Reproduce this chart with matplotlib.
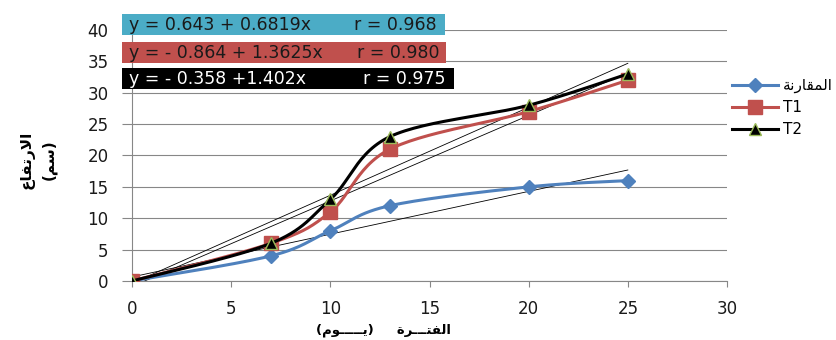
import matplotlib.pyplot as plt
import numpy as np
from matplotlib.patches import Rectangle
from matplotlib.lines import Line2D

# days
days = [0, 7, 10, 13, 20, 25]
control = [0, 4, 8, 12, 15, 16]
t1 = [0, 6, 11, 21, 27, 32]
t2 = [0, 6, 13, 23, 28, 33]

# trend line coefficients (intercept, slope) as printed on the chart
trend_a = [0.643, -0.864, -0.358]
trend_b = [0.6819, 1.3625, 1.402]
eq_texts = ["y = 0.643 + 0.6819x", "y = - 0.864 + 1.3625x", "y = - 0.358 +1.402x"]
r_texts = ["r = 0.968", "r = 0.980", "r = 0.975"]

# arabic written in presentation forms, visual order (matplotlib does no shaping)
lbl_control = "\uFE94\uFEE7\uFEAD\uFE8E\uFED8\uFEE4\uFEDF\uFE8D"
ylab = "\uFEC9\uFE8E\uFED4\uFE97\uFEAD\uFEFB\uFE8D\n(\uFEE2\uFEB3)"
xlab = "(\uFEE1\uFEEE" + "\u0640" * 5 + "\uFEF3)" + "     " + \
       "\uFE93\uFEAE" + "\u0640" * 3 + "\uFE98\uFED4\uFEDF\uFE8D"


def smooth(x, y, n=30):
    # bezier smoothing like excel's smoothed line
    x = np.asarray(x, float)
    y = np.asarray(y, float)
    px = np.concatenate([[x[0]], x, [x[-1]]])
    py = np.concatenate([[y[0]], y, [y[-1]]])
    xs, ys = [], []
    t = np.linspace(0, 1, n)
    for i in range(1, len(px) - 2):
        p0 = np.array([px[i], py[i]])
        p3 = np.array([px[i + 1], py[i + 1]])
        c1 = p0 + (np.array([px[i + 1], py[i + 1]]) - np.array([px[i - 1], py[i - 1]])) / 6
        c2 = p3 - (np.array([px[i + 2], py[i + 2]]) - np.array([px[i], py[i]])) / 6
        b = ((1 - t) ** 3)[:, None] * p0 + (3 * (1 - t) ** 2 * t)[:, None] * c1 \
            + (3 * (1 - t) * t ** 2)[:, None] * c2 + (t ** 3)[:, None] * p3
        xs.extend(b[:, 0])
        ys.extend(b[:, 1])
    return xs, ys


W, H = 836, 340
fig = plt.figure(figsize=(W / 100, H / 100), dpi=100)
ax = fig.add_axes([132 / W, 1 - 281 / H, (727 - 132) / W, (281 - 30) / H])

blue = "#4F81BD"
red = "#C0504D"

# trend lines
xt = np.array([0, 25])
for a, b in zip(trend_a, trend_b):
    ax.plot(xt, a + b * xt, color="black", lw=0.6, zorder=2)

sx, sy = smooth(days, control)
ax.plot(sx, sy, color=blue, lw=2.2, zorder=3)
ax.plot(days, control, ls="none", marker="D", ms=7, color=blue, zorder=4)
sx, sy = smooth(days, t1)
ax.plot(sx, sy, color=red, lw=2.2, zorder=3)
ax.plot(days, t1, ls="none", marker="s", ms=10, color=red, zorder=4)
sx, sy = smooth(days, t2)
ax.plot(sx, sy, color="black", lw=2.2, zorder=5)
ax.plot(days, t2, ls="none", marker="^", ms=9, color="black",
        mec="#9BBB59", mew=1, zorder=6)

ax.set_xlim(0, 30)
ax.set_ylim(0, 40)
ax.set_xticks(range(0, 31, 5))
ax.set_yticks(range(0, 41, 5))
ax.grid(axis="y", color="#878787", lw=0.8)
ax.set_axisbelow(True)
for s in ["top", "right"]:
    ax.spines[s].set_visible(False)
for s in ["left", "bottom"]:
    ax.spines[s].set_color("#878787")
ax.tick_params(colors="#878787", labelcolor="#1a1a1a", labelsize=12)
ax.tick_params(axis="y", length=7, pad=10)
ax.tick_params(axis="x", length=4, pad=10)

fig.text(383 / W, 1 - 330 / H, xlab, fontsize=9.5, fontweight="bold",
         ha="center", va="center")
fig.text(38 / W, 1 - 160 / H, ylab, rotation=90, fontsize=11, fontweight="bold",
         ha="center", va="center", linespacing=1.6)

# equation boxes
boxes = [(122, 14, 323, 21, "#4BACC6", "#1a1a1a", 437),
         (122, 42, 324, 21, red, "#1a1a1a", 439),
         (122, 68, 332, 21, "black", "white", 446)]
for (bx, by, bw, bh, fc, tc, rx), eq, rt in zip(boxes, eq_texts, r_texts):
    fig.add_artist(Rectangle((bx / W, 1 - (by + bh) / H), bw / W, bh / H,
                             transform=fig.transFigure, fc=fc, ec="none", zorder=10))
    fig.text(129 / W, 1 - (by + bh / 2) / H, eq, color=tc, fontsize=12.5,
             va="center", ha="left", zorder=11)
    fig.text(rx / W, 1 - (by + bh / 2) / H, rt, color=tc, fontsize=12.5,
             va="center", ha="right", zorder=11)

handles = [Line2D([], [], color=blue, lw=2.2, marker="D", ms=7),
           Line2D([], [], color=red, lw=2.2, marker="s", ms=10),
           Line2D([], [], color="black", lw=2.2, marker="^", ms=9, mec="#9BBB59")]
fig.legend(handles, [lbl_control, "T1", "T2"], loc="upper left",
           bbox_to_anchor=(720 / W, 1 - 66 / H), frameon=False, fontsize=11,
           handlelength=3.0, handletextpad=0.3, labelspacing=0.45,
           borderpad=0.3)

fig.savefig("out.png", dpi=100)
